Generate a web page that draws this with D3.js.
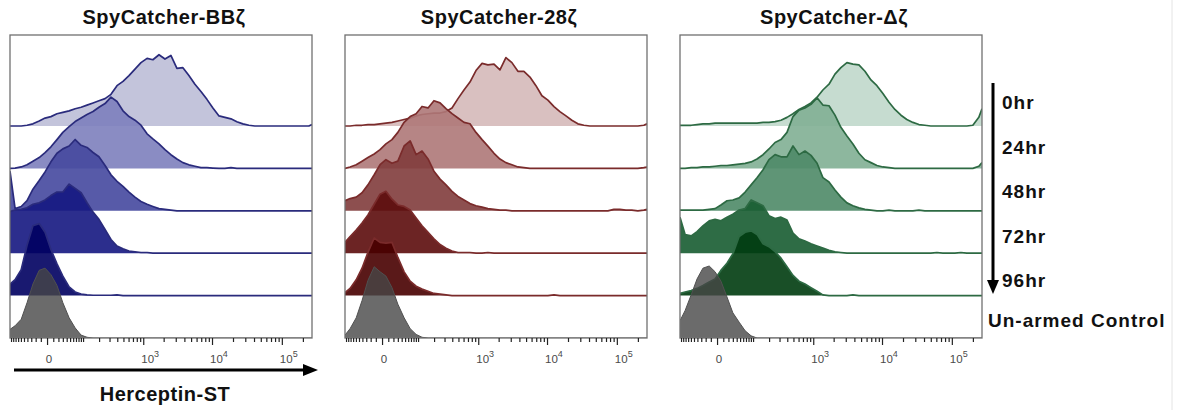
<!DOCTYPE html>
<html>
<head>
<meta charset="utf-8">
<script src="https://cdn.jsdelivr.net/npm/d3@7"></script>
<style>
  body { margin: 0; background: #fff; }
  svg { display: block; font-family: "Liberation Sans", Arial, Helvetica, sans-serif; }
</style>
</head>
<body>
<svg id="chart" width="1179" height="410"></svg>
<script>
// channel values of the histogram bins (biexponential x axis)
const bins = [-105, -82, -59, -41, -26, -13, -3, 6, 17, 30, 47, 67, 91, 120, 156, 199, 253, 317, 396, 492,
  609, 751, 925, 1140, 1390, 1710, 2090, 2550, 3120, 3810, 4650, 5680, 6930, 8450, 10300, 12600, 15300, 18700,
  22700, 27700, 33800, 41100, 50100, 61100, 74500, 90600, 110500, 134600, 163900, 199700, 243300, 270000];

const rows = ['0hr', '24hr', '48hr', '72hr', '96hr', 'Un-armed Control'];
const panelTitles = ['SpyCatcher-BBζ', 'SpyCatcher-28ζ', 'SpyCatcher-Δζ'];
const tickValues = [0, 1000, 10000, 100000];
const tickBase = ['0', '10', '10', '10'];
const tickExp = ['', '3', '4', '5'];

// % of mode, one value per bin
const bb0hr = [0, 0, 0, 1, 3, 7, 11, 13, 17, 19, 21, 24, 26, 29, 32, 35, 38, 44, 56, 62, 70, 79, 88, 94, 92, 99, 93, 98, 80, 81, 70, 58, 48, 37, 25, 14, 12, 10, 6, 3, 1, 0, 0, 0, 0, 0, 0, 0, 0, 0, 0, 2];
const bb24hr = [0, 0.5, 2, 5, 10, 15, 22, 30, 40, 50, 58, 65, 70, 75, 79, 85, 90, 99, 93, 80, 72, 67, 60, 48, 41, 34, 26, 19, 13, 8, 5, 3, 1, 1, 0.5, 0, 0, 1, 0, 0, 0, 0, 0, 0, 0, 0, 0, 0, 0, 0, 0, 0];
const bb48hr = [55, 3, 6, 14, 30, 42, 54, 68, 80, 86, 90, 99, 91, 88, 81, 75, 63, 50, 41, 34, 26, 19, 13, 9, 6, 3, 2, 1, 0, 0, 0, 0, 0, 0, 0, 0, 0, 0, 0, 0, 0, 0, 0, 0, 0, 0, 0, 0, 0, 0, 0, 0];
const bb72hr = [58, 60, 61, 63, 68, 70, 74, 80, 85, 85, 96, 90, 84, 70, 57, 47, 33, 19, 10, 6, 3, 2, 1, 1, 0, 0, 0, 0, 0, 0, 0, 0, 0, 0, 0, 0, 0, 0, 0, 0, 0, 0, 0, 0, 0, 0, 0, 0, 0, 0, 0, 0];
const bb96hr = [16, 22, 36, 70, 97, 100, 88, 64, 44, 27, 12, 5, 2, 1, 0.5, 0.5, 0.5, 0.5, 1, 0, 0, 0, 0, 0, 0, 0, 0, 0, 0, 0, 0, 0, 0, 0, 0, 0, 0, 0, 0, 0, 0, 0, 0, 0, 0, 0, 0, 0, 0, 0, 0, 0];
const bbCtrl = [12, 17, 26, 49, 75, 94, 97, 88, 73, 49, 28, 14, 4, 1, 0, 0, 0, 0, 0, 0, 0, 0, 0, 0, 0, 0, 0, 0, 0, 0, 0, 0, 0, 0, 0, 0, 0, 0, 0, 0, 0, 0, 0, 0, 0, 0, 0, 0, 0, 0, 0, 0];

const cd0hr = [0, 0, 1, 1, 2, 2, 3, 4, 5, 7, 9, 11, 14, 16, 17, 18, 18, 20, 25, 38, 50, 61, 77, 87, 85, 86, 78, 95, 88, 76, 76, 68, 56, 42, 36, 27, 20, 14, 8, 3, 1, 0, 0, 0, 0, 0, 0, 0, 0, 0, 1, 3];
const cd24hr = [0, 2, 5, 10, 15, 20, 26, 34, 40, 50, 64, 72, 76, 86, 84, 94, 91, 83, 76, 70, 64, 62, 50, 40, 31, 21, 13, 8, 5, 2, 1, 0, 0, 0, 0, 0, 0, 0, 0, 0, 0, 0, 0, 0, 0, 0, 0, 0, 0, 0, 1, 2];
const cd48hr = [14, 17, 19, 25, 36, 50, 64, 71, 66, 69, 90, 97, 78, 83, 72, 55, 44, 36, 27, 20, 15, 10, 7, 5, 3, 2, 1, 1, 0, 0, 0, 0, 0, 0, 0, 0, 0, 0, 0, 0, 0, 0, 0, 0, 0, 2, 2, 1, 1, 0, 1, 2];
const cd72hr = [15, 23, 32, 42, 53, 68, 82, 86, 75, 67, 65, 60, 49, 38, 29, 20, 12, 7, 3, 1, 1, 1, 0, 0, 1, 0, 0, 0, 0, 0, 0, 0, 0, 0, 0, 0, 0, 0, 0, 0, 0, 0, 0, 0, 0, 0, 0, 0, 0, 0, 0, 0];
const cd96hr = [4, 10, 22, 38, 60, 80, 74, 73, 74, 53, 33, 20, 13, 9, 6, 3, 2, 1, 0, 0, 0, 0, 0, 0, 0, 0, 0, 0, 0, 0, 0, 0, 0, 0, 0, 1, 0, 0, 0, 0, 0, 0, 0, 0, 0, 0, 0, 0, 0, 0, 0, 0];
const cdCtrl = [4, 13, 28, 52, 80, 99, 92, 86, 70, 47, 28, 13, 5, 1, 0, 0, 0, 0, 0, 0, 0, 0, 0, 0, 0, 0, 0, 0, 0, 0, 0, 0, 0, 0, 0, 0, 0, 0, 0, 0, 0, 0, 0, 0, 0, 0, 0, 0, 0, 0, 0, 0];

const dz0hr = [1, 1, 1, 2, 3, 3, 4, 4, 4, 4, 4, 4, 4, 4, 5, 5, 6, 8, 12, 17, 23, 27, 32, 40, 50, 58, 72, 81, 88, 86, 85, 76, 64, 56, 45, 33, 23, 15, 9, 5, 2, 1, 0, 0, 0, 0, 0, 0, 0, 1, 12, 24];
const dz24hr = [0, 0, 1, 1, 2, 2, 3, 4, 4, 5, 6, 7, 9, 13, 19, 27, 36, 40, 50, 72, 81, 84, 89, 98, 88, 87, 74, 57, 45, 34, 21, 12, 8, 4, 2, 1, 0, 0, 0, 0, 0, 0, 0, 0, 0, 0, 0, 0, 0, 0, 3, 8];
const dz48hr = [1, 1, 1, 1, 1, 2, 3, 8, 14, 15, 18, 26, 36, 46, 57, 71, 78, 75, 75, 90, 78, 83, 77, 66, 46, 40, 29, 19, 11, 7, 4, 2, 1, 0, 0, 1, 0, 0, 0, 0, 1, 0, 0, 0, 0, 0, 0, 0, 0, 0, 0, 0];
const dz72hr = [50, 26, 24, 30, 38, 45, 47, 45, 50, 54, 60, 62, 74, 70, 66, 52, 48, 50, 46, 28, 20, 17, 13, 10, 7, 4, 2, 1, 0, 0, 0, 0, 0, 0, 0, 0, 0, 0, 0, 0, 0, 0, 0, 1, 0, 0, 0, 1, 0, 0, 0, 0];
const dz96hr = [3, 5, 7, 10, 14, 19, 23, 35, 45, 58, 82, 88, 90, 85, 72, 68, 61, 52, 40, 28, 20, 16, 11, 6, 1, 0, 0, 0, 0, 1, 0, 0, 0, 0, 0, 0, 0, 0, 0, 0, 0, 0, 0, 0, 0, 0, 0, 0, 0, 0, 0, 0];
const dzCtrl = [24, 38, 60, 82, 97, 100, 92, 79, 57, 35, 22, 10, 3, 0, 0, 0, 0, 0, 0, 0, 0, 0, 0, 0, 0, 0, 0, 0, 0, 0, 0, 0, 0, 0, 0, 0, 0, 0, 0, 0, 0, 0, 0, 0, 0, 0, 0, 0, 0, 0, 0, 0];

const panels = [
  { title: panelTitles[0], series: [bb0hr, bb24hr, bb48hr, bb72hr, bb96hr, bbCtrl],
    fills: ['#bcbed7', '#7d7fbd', '#45489e', '#151781', '#000060'], stroke: '#2a2b7c' },
  { title: panelTitles[1], series: [cd0hr, cd24hr, cd48hr, cd72hr, cd96hr, cdCtrl],
    fills: ['#d5b9b9', '#ae7878', '#813c3c', '#5c0c0c', '#480000'], stroke: '#7a2b2b' },
  { title: panelTitles[2], series: [dz0hr, dz24hr, dz48hr, dz72hr, dz96hr, dzCtrl],
    fills: ['#c0d8cb', '#81af93', '#4e8a67', '#175c31', '#003c10'], stroke: '#2d6a43' }
];

const svg = d3.select('#chart');
const panelWidth = 302;
const panelTop = 35;
const panelBottom = 338;
const panelLefts = [10, 345, 680];

const x = d3.scaleSymlog().constant(44).domain([-105, 270000]).range([0, panelWidth]);
const rowY = d3.scalePoint().domain(rows.slice().reverse()).range([panelBottom, 126]);
const h = d3.scaleLinear().domain([0, 100]).range([0, 72]);

// minor ticks of the biex axis
const minorTicks = [];
for (let k = 1; k <= 10; k++) { minorTicks.push(-10 * k, 10 * k); }
[100, 1000, 10000].forEach(d => { for (let k = 2; k <= 9; k++) minorTicks.push(d * k); });
minorTicks.push(200000);

panels.forEach((p, k) => {
  const g = svg.append('g').attr('transform', `translate(${panelLefts[k]},0)`);
  g.append('clipPath').attr('id', 'clip' + k)
    .append('rect')
    .attr('x', 0).attr('y', panelTop - 2)
    .attr('width', panelWidth).attr('height', panelBottom - panelTop + 2);
  const plot = g.append('g').attr('clip-path', `url(#clip${k})`);

  p.series.forEach((vals, r) => {
    const base = rowY(rows[r]);
    const pts = bins.map((b, i) => [b, vals[i]]);
    const isCtrl = r === rows.length - 1;
    const area = d3.area().x(d => x(d[0])).y0(base).y1(d => base - h(d[1]));
    const line = d3.line().x(d => x(d[0])).y(d => base - h(d[1]));
    plot.append('path')
      .attr('d', area(pts))
      .attr('fill', isCtrl ? '#464646' : p.fills[r])
      .attr('fill-opacity', isCtrl ? 0.8 : 0.9);
    plot.append('path')
      .attr('d', line(pts))
      .attr('fill', 'none')
      .attr('stroke', isCtrl ? '#505050' : p.stroke)
      .attr('stroke-width', isCtrl ? 1 : 1.7)
      .attr('stroke-linejoin', 'round');
  });

  g.append('rect')
    .attr('x', 0).attr('y', panelTop)
    .attr('width', panelWidth).attr('height', panelBottom - panelTop)
    .attr('fill', 'none').attr('stroke', '#707070').attr('stroke-width', 1.3);

  const axisMinor = g.append('g').attr('transform', `translate(0,${panelBottom})`)
    .call(d3.axisBottom(x).tickValues(minorTicks).tickSize(4).tickSizeOuter(0).tickFormat(''));
  axisMinor.select('.domain').remove();
  const axisMajor = g.append('g').attr('transform', `translate(0,${panelBottom})`)
    .call(d3.axisBottom(x).tickValues(tickValues).tickSize(7).tickSizeOuter(0).tickFormat(''));
  axisMajor.select('.domain').remove();
  g.selectAll('.tick line').attr('stroke', '#222').attr('stroke-width', 1.2);

  tickValues.forEach((v, i) => {
    const t = g.append('text')
      .attr('y', 363)
      .attr('fill', '#4a4a4a')
      .attr('font-size', 11.5);
    if (tickExp[i] === '') {
      t.attr('x', x(v) + 2).attr('text-anchor', 'middle').text(tickBase[i]);
    } else {
      t.attr('x', x(v) - 2).attr('text-anchor', 'start');
      t.append('tspan').text(tickBase[i]);
      t.append('tspan').attr('dy', -6).attr('font-size', 9).text(tickExp[i]);
    }
  });

  svg.append('text')
    .attr('x', panelLefts[k] + panelWidth / 2 + 3)
    .attr('y', 24)
    .attr('text-anchor', 'middle')
    .attr('font-size', 20)
    .attr('font-weight', 'bold')
    .attr('letter-spacing', 0.5)
    .attr('fill', '#111')
    .text(p.title);
});

// Herceptin-ST axis arrow
svg.append('line')
  .attr('x1', 14).attr('x2', 306).attr('y1', 370).attr('y2', 370)
  .attr('stroke', '#000').attr('stroke-width', 3);
svg.append('path')
  .attr('d', 'M303,364 L318,370 L303,376 Z')
  .attr('fill', '#000');
svg.append('text')
  .attr('x', 165).attr('y', 401)
  .attr('text-anchor', 'middle')
  .attr('font-size', 20).attr('font-weight', 'bold').attr('letter-spacing', 0.5)
  .attr('fill', '#111')
  .text('Herceptin-ST');

// time arrow and row labels
svg.append('line')
  .attr('x1', 993).attr('x2', 993).attr('y1', 83).attr('y2', 282)
  .attr('stroke', '#000').attr('stroke-width', 3);
svg.append('path')
  .attr('d', 'M987,280 L999,280 L993,294 Z')
  .attr('fill', '#000');

const timeLabels = rows.slice(0, 5);
const labelY = d3.scalePoint().domain(timeLabels).range([109, 287]);
svg.selectAll('.row-label')
  .data(timeLabels)
  .enter()
  .append('text')
  .attr('class', 'row-label')
  .attr('x', 1002)
  .attr('y', d => labelY(d))
  .attr('font-size', 19).attr('font-weight', 'bold').attr('letter-spacing', 1)
  .attr('fill', '#111')
  .text(d => d);
svg.append('text')
  .attr('x', 988).attr('y', 327)
  .attr('font-size', 19).attr('font-weight', 'bold').attr('letter-spacing', 1)
  .attr('fill', '#111')
  .text(rows[5]);

// faint border line at the right of the figure
svg.append('line')
  .attr('x1', 1172).attr('x2', 1172).attr('y1', 0).attr('y2', 410)
  .attr('stroke', '#e4e4e4').attr('stroke-width', 1);
</script>
</body>
</html>
